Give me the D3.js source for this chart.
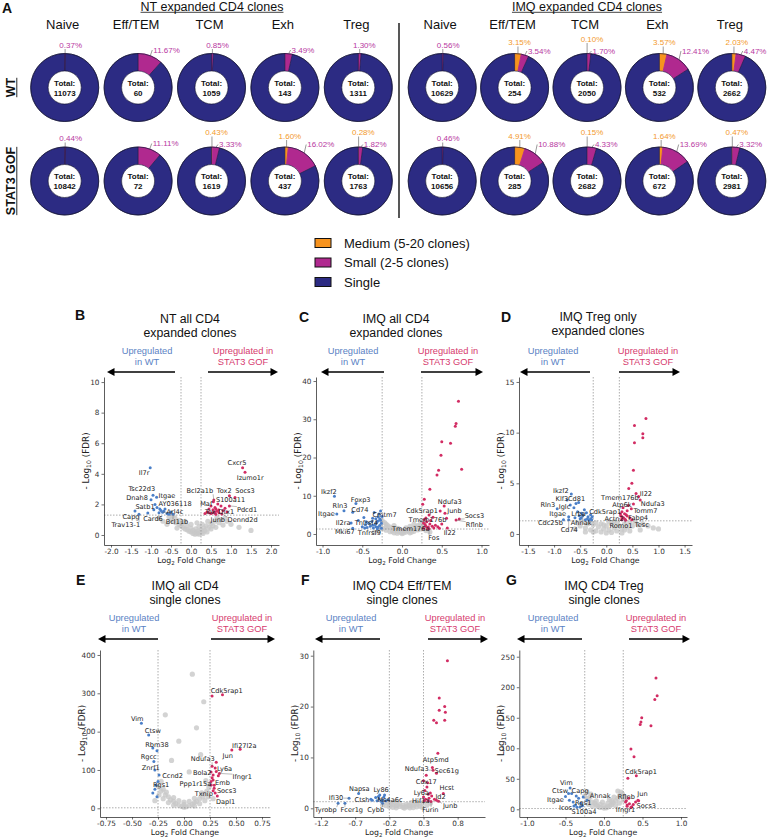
<!DOCTYPE html>
<html><head><meta charset="utf-8">
<script src="https://cdn.jsdelivr.net/npm/d3@7"></script>
<style>body{margin:0;background:#fff}svg{display:block}</style>
</head><body>
<svg id="fig" width="768" height="838"></svg>
<script>
// ================= DATA =================
const cellTypes = ["Naive","Eff/TEM","TCM","Exh","Treg"];
const groupTitles = ["NT expanded CD4 clones","IMQ expanded CD4 clones"];
const genotypes = ["WT","STAT3 GOF"];
const legendLabels = ["Medium (5-20 clones)","Small (2-5 clones)","Single"];

const ntWtTotal   = [11073, 60, 1059, 143, 1311];
const ntWtMedium  = [0, 0, 0, 0, 0];
const ntWtSmall   = [0.37, 11.67, 0.85, 3.49, 1.30];
const ntGofTotal  = [10842, 72, 1619, 437, 1763];
const ntGofMedium = [0, 0, 0.43, 1.60, 0.28];
const ntGofSmall  = [0.44, 11.11, 3.33, 16.02, 1.82];
const imqWtTotal   = [10629, 254, 2050, 532, 2662];
const imqWtMedium  = [0, 3.15, 0.10, 3.57, 2.03];
const imqWtSmall   = [0.56, 3.54, 1.70, 12.41, 4.47];
const imqGofTotal  = [10656, 285, 2682, 672, 2981];
const imqGofMedium = [0, 4.91, 0.15, 1.64, 0.47];
const imqGofSmall  = [0.46, 10.88, 4.33, 13.69, 3.32];

// Volcano data: genes [name, log2FC, -log10FDR, labelX, labelY] ; points [log2FC, -log10FDR]
const bGray = [[-0.55,1.2],[-0.5,1.0],[-0.45,0.9],[-0.4,1.1],[-0.38,0.8],[-0.3,0.7],[-0.3,0.95],[-0.25,0.6],[-0.2,0.5],[-0.2,0.8],[-0.15,0.4],[-0.1,0.35],[-0.1,0.6],[-0.05,0.25],[0,0.2],[0,0.45],[0.05,0.1],[0.05,0.3],[0.1,0.05],[0.1,0.2],[0.12,0.4],[0.15,0.1],[0.18,0.25],[0.2,0.05],[0.22,0.15],[0.25,0.35],[0.28,0.2],[0.3,0.1],[0.32,0.45],[0.35,0.3],[0.38,0.6],[0.4,0.2],[0.45,0.5],[0.5,0.4],[0.5,0.75],[0.55,0.6],[0.6,0.9],[0.62,0.5],[0.7,0.8],[0.75,1.0],[0.8,0.65],[0.85,1.1],[0.9,0.9],[1.0,0.7],[1.2,0.5],[1.5,0.3],[-0.7,0.9],[-0.8,1.1],[0.2,0.55],[-0.35,0.45],[0.65,1.15],[-0.45,1.25],[-0.6,0.7],[0.28,0.7],[0.0,0.7],[-0.15,0.9],[0.42,0.9],[0.15,0.8]];
const bWTGenes = [["Il7r",-1.02,4.4,-1.17,4.1],["Tsc22d3",-0.95,2.6,-1.23,3.0],["Itgae",-0.86,2.46,-0.6,2.55],["Dnah8",-1.0,2.3,-1.35,2.42],["Satb1",-0.93,1.65,-1.15,1.83],["AY036118",-0.78,1.7,-0.4,2.03],["Arl4c",-0.71,1.48,-0.4,1.5],["Capg",-1.4,1.57,-1.5,1.18],["Card6",-1.08,1.44,-0.95,1.05],["Bcl11b",-0.45,1.35,-0.35,0.85],["Trav13-1",-1.3,1.35,-1.63,0.65]];
const bWTPts = [[-0.6,1.4],[-0.75,1.6],[-0.8,1.45],[-0.65,1.7],[-0.55,1.35],[-0.5,1.5],[-0.85,1.8],[-0.68,1.55],[-0.9,2.0]];
const bGOFGenes = [["Cxcr5",1.29,4.4,1.15,4.7],["Izumo1r",1.35,4.1,1.48,3.75],["Tox2",0.96,2.57,0.83,2.88],["Socs3",1.1,2.45,1.35,2.88],["Bcl2a1b",0.57,2.29,0.22,2.88],["Maf",0.56,2.18,0.38,2.03],["S100a11",0.67,2.03,0.99,2.29],["Pdcd1",0.96,1.9,1.4,1.68],["Tox",0.6,1.5,0.48,1.52],["Dtx1",0.69,1.63,0.88,1.52],["Junb",0.62,1.35,0.67,0.98],["Dennd2d",0.77,1.38,1.29,0.98]];
const bGOFPts = [[0.4,1.5],[0.45,1.7],[0.5,1.4],[0.55,1.65],[0.5,1.9],[0.7,1.45],[0.8,1.6],[0.85,1.75],[0.6,1.8],[0.45,1.45],[0.65,1.55],[0.75,1.9],[0.9,1.5],[0.35,1.4],[0.55,1.45],[0.62,1.7]];

const cGray = [[-0.25,3.5],[-0.22,3.0],[-0.2,2.6],[-0.18,2.2],[-0.15,1.8],[-0.12,1.5],[-0.1,1.2],[-0.07,0.9],[-0.04,0.6],[-0.01,0.4],[0.02,0.3],[0.05,0.5],[0.08,0.8],[0.11,1.1],[0.14,1.4],[0.17,1.8],[0.2,2.2],[0.23,2.6],[0.26,3.0],[0.29,3.4],[-0.2,1.0],[-0.15,0.6],[-0.1,0.3],[0,0.1],[0.1,0.3],[0.15,0.7],[0.2,1.1],[-0.05,1.5],[0.05,1.6],[0.1,2.0],[-0.1,2.2],[0.15,2.6],[-0.2,1.8],[0.25,1.6],[-0.3,0.8],[0.3,0.9],[-0.35,0.4],[0.35,0.5],[-0.27,2.0],[0.28,2.0],[0,0.9],[-0.12,0.8],[0.12,0.5],[-0.24,1.4],[0.22,1.3],[-0.06,0.2],[0.06,1.0]];
const cWTGenes = [["Ikzf2",-0.85,9.9,-0.92,11.0],["Foxp3",-0.58,8.0,-0.52,8.9],["Rln3",-0.73,6.1,-0.78,7.4],["Cd74",-0.62,5.7,-0.53,6.3],["Itgae",-0.82,5.2,-0.95,5.2],["Cmtm7",-0.37,4.1,-0.22,5.0],["Il2ra",-0.64,2.9,-0.74,3.0],["Tnfrsf4",-0.45,3.2,-0.45,3.0],["Mki67",-0.62,1.5,-0.72,0.6],["Tnfrsf9",-0.47,1.6,-0.41,0.35]];
const cWTPts = [[-0.26,1.5],[-0.28,2.2],[-0.3,1.8],[-0.32,3.0],[-0.27,3.6],[-0.3,4.5],[-0.34,2.5],[-0.36,1.6],[-0.38,3.3],[-0.29,5.2],[-0.33,4.0],[-0.4,2.0],[-0.42,2.8],[-0.35,5.6],[-0.26,2.8],[-0.31,1.4],[-0.44,1.7],[-0.28,4.0],[-0.37,2.3],[-0.3,3.4],[-0.46,2.4],[-0.5,1.9],[-0.25,4.6],[-0.33,1.9],[-0.27,6.0],[-0.55,3.5],[-0.48,4.3]];
const cGOFGenes = [["Ndufa3",0.53,7.3,0.6,8.4],["Cdk5rap1",0.48,6.0,0.25,6.0],["Junb",0.54,5.4,0.66,6.0],["Tmem176b",0.56,4.1,0.32,3.8],["Socs3",0.72,3.9,0.91,4.8],["Rflnb",0.68,3.65,0.91,2.5],["Il22",0.57,1.6,0.6,0.35],["Tmem176a",0.3,2.0,0.11,1.5],["Fos",0.34,1.4,0.4,-0.9]];
const cGOFPts = [[0.71,34.7],[0.68,28.9],[0.67,28.2],[0.5,24.1],[0.61,23.7],[0.49,20.6],[0.46,16.7],[0.44,15.4],[0.75,16.9],[0.35,11.7],[0.28,9.1],[0.26,7.8],[0.27,1.5],[0.29,2.5],[0.31,3.2],[0.33,1.8],[0.35,2.6],[0.3,4.2],[0.38,2.0],[0.36,3.5],[0.4,1.6],[0.42,2.3],[0.28,3.8],[0.32,1.4],[0.45,1.9],[0.39,4.4],[0.34,5.0],[0.27,2.9],[0.5,2.6],[0.47,1.5]];

const dGray = [[-0.5,0.8],[-0.45,1.2],[-0.4,0.6],[-0.35,1.0],[-0.3,0.4],[-0.25,0.9],[-0.2,0.3],[-0.15,0.7],[-0.1,0.2],[-0.05,0.5],[0,0.1],[0.05,0.4],[0.1,0.15],[0.15,0.6],[0.2,0.3],[0.25,0.8],[0.3,0.5],[0.35,1.0],[0.4,0.7],[0.45,1.1],[0.5,0.8],[0.55,1.2],[0.6,0.9],[0.7,1.0],[0.8,0.8],[0.9,0.6],[1.0,0.5],[-0.6,0.5],[-0.2,1.1],[0,0.8],[0.1,1.0],[0.2,1.1],[-0.1,1.0],[-0.3,1.2],[0.05,1.2],[-0.4,0.2],[0.3,0.1],[0.65,0.4],[-0.55,1.1],[0.15,1.25],[-0.25,0.2],[0.45,0.3],[-0.05,0.9],[0.35,0.4]];
const dWTGenes = [["Ikzf2",-0.67,3.95,-0.87,4.3],["Klf3",-0.75,3.35,-0.85,3.5],["Cd81",-0.53,3.1,-0.57,3.5],["Rln3",-0.94,2.5,-1.12,2.86],["Iglc",-0.69,2.86,-0.8,2.7],["Itgae",-0.72,1.7,-0.93,2.0],["Lrba",-0.47,2.04,-0.53,2.0],["Cdc25b",-0.82,1.4,-1.07,1.12],["Ahnak",-0.45,1.8,-0.48,1.12],["Cd74",-0.72,1.4,-0.71,0.4]];
const dWTPts = [[-0.5,1.5],[-0.45,1.9],[-0.4,1.4],[-0.35,1.7],[-0.3,1.5],[-0.38,2.1],[-0.55,2.2],[-0.6,1.6],[-0.3,1.9],[-0.42,2.4],[-0.33,1.35],[-0.48,1.6],[-0.28,1.4],[-0.36,1.5],[-0.27,1.7],[-0.52,1.8],[-0.62,2.6],[-0.58,3.0]];
const dGOFGenes = [["Il22",0.62,3.7,0.76,3.95],["Tmem176b",0.57,4.0,0.26,3.6],["Ndufa3",0.65,3.35,0.89,3.0],["Atp6k",0.52,2.96,0.3,2.9],["Tomm7",0.48,2.5,0.75,2.3],["Cdk5rap1",0.3,2.2,-0.02,2.2],["Fabp4",0.4,1.78,0.61,1.6],["Actn2",0.3,1.7,0.15,1.55],["Romo1",0.36,1.45,0.28,0.8],["Tesc",0.49,1.4,0.68,0.9]];
const dGOFPts = [[0.76,11.4],[0.54,10.7],[0.70,9.9],[0.70,9.5],[0.54,9.0],[0.52,6.3],[0.49,5.0],[0.43,4.5],[0.3,1.5],[0.35,2.0],[0.28,1.8],[0.4,2.3],[0.45,1.6],[0.32,2.6],[0.38,1.9],[0.3,1.4],[0.42,2.8],[0.27,2.0],[0.33,1.6],[0.37,1.35]];

const eGray = [[-0.25,58],[-0.22,45],[-0.2,50],[-0.18,35],[-0.15,30],[-0.13,22],[-0.1,18],[-0.08,12],[-0.05,8],[-0.02,5],[0,3],[0.02,4],[0.05,7],[0.08,10],[0.1,15],[0.12,18],[0.15,25],[0.18,30],[0.2,38],[0.22,45],[0.24,55],[0.25,62],[-0.15,15],[-0.1,8],[0,10],[0.1,6],[0.15,12],[-0.2,25],[0.2,20],[-0.05,20],[0.05,18],[-0.24,35],[0.23,30],[-0.18,244],[0.19,278],[0.08,350],[-0.05,175],[0.12,210],[-0.12,125],[0.16,140],[0.05,95],[-0.22,70],[0.21,72],[-0.28,20],[0.28,25],[-0.17,42],[0.17,40],[-0.1,28],[0.1,26],[0,16]];
const eWTGenes = [["Vim",-0.41,222,-0.45,233],["Ctsw",-0.34,191,-0.3,203],["Rbm38",-0.3,157,-0.26,167],["Rgcc",-0.29,122,-0.34,135],["Znrf1",-0.28,100,-0.32,107],["Ccnd2",-0.24,87,-0.11,84],["Rgs1",-0.28,50,-0.22,61]];
const eWTPts = [[-0.26,150],[-0.27,60],[-0.3,40],[-0.26,30],[-0.25,70]];
const eGOFGenes = [["Cdk5rap1",0.27,293,0.41,306],["Ifi27l2a",0.54,154,0.58,163],["Jun",0.46,152,0.42,137],["Ndufa3",0.27,110,0.18,129],["Ly6a",0.31,96,0.39,104],["Bola2",0.28,87,0.175,94],["Ifngr1",0.34,91,0.56,82],["Emb",0.28,74,0.37,68],["Ppp1r15a",0.26,61,0.11,63],["Socs3",0.29,52,0.41,45],["Txnip",0.28,46,0.19,39],["Dapl1",0.32,32,0.40,17]];
const eGOFPts = [[0.37,296],[0.27,80],[0.3,105],[0.26,70],[0.29,60],[0.33,85],[0.3,40],[0.26,95],[0.31,120]];

const fGray = [[-0.25,1.2],[-0.2,0.9],[-0.15,0.7],[-0.1,0.5],[-0.05,0.35],[0,0.2],[0.05,0.3],[0.1,0.45],[0.15,0.6],[0.2,0.8],[0.25,1.0],[0.3,1.2],[-0.2,0.3],[-0.1,0.1],[0,0.6],[0.1,0.1],[0.2,0.3],[-0.15,0.2],[0.15,0.15],[0.05,0.8],[-0.05,0.9],[0.25,0.4],[-0.25,0.5],[0.35,0.6],[-0.3,0.7],[0.4,1.0],[0.12,1.1],[-0.12,1.2],[0.02,0.05],[0.28,0.2],[-0.08,0.7],[0.08,0.6],[0.18,1.1],[-0.18,1.0]];
const fWTGenes = [["Napsa",-0.65,2.9,-0.64,3.9],["Ly86",-0.34,2.6,-0.32,3.6],["Ifi30",-0.79,2.0,-0.98,2.0],["Ctsh",-0.47,1.77,-0.6,1.77],["Ms4a6c",-0.36,2.3,-0.19,1.63],["Tyrobp",-0.95,1.0,-1.13,-0.3],["Fcer1g",-0.85,1.0,-0.75,-0.3],["Cybb",-0.3,1.0,-0.4,-0.3]];
const fWTPts = [[-0.3,1.6],[-0.35,1.9],[-0.25,1.5],[-0.4,2.1],[-0.28,2.2],[-0.32,1.4],[-0.45,1.6],[-0.22,1.7],[-0.27,2.6],[-0.38,1.5]];
const fGOFGenes = [["Atp5md",0.51,10.8,0.48,9.6],["Ndufa3",0.44,7.5,0.2,7.7],["Sec61g",0.49,6.9,0.64,7.4],["Cox17",0.3,5.4,0.34,5.2],["Hcst",0.59,2.9,0.64,4.1],["Ly6a",0.37,2.75,0.27,3.1],["Id2",0.49,1.6,0.55,2.3],["Hif1a",0.37,1.5,0.26,1.4],["Junb",0.52,1.4,0.69,0.45],["Furin",0.41,1.35,0.4,-0.3]];
const fGOFPts = [[0.65,29.0],[0.53,21.7],[0.61,20.0],[0.53,19.3],[0.62,18.9],[0.45,17.3],[0.49,16.8],[0.61,17.3],[0.32,3.5],[0.35,4.2],[0.3,2.2],[0.33,1.8],[0.38,2.0],[0.4,3.0],[0.31,1.5],[0.36,5.0],[0.42,2.4],[0.34,6.5],[0.43,8.0],[0.46,1.8]];

const gGray = [[-0.25,22],[-0.22,18],[-0.2,15],[-0.18,20],[-0.15,12],[-0.12,10],[-0.1,7],[-0.08,5],[-0.05,3],[0,2],[0.03,2.5],[0.05,4],[0.08,6],[0.1,8],[0.12,11],[0.15,14],[0.18,18],[0.2,22],[0.22,28],[0.24,25],[-0.15,5],[-0.05,8],[0.05,10],[0.15,6],[-0.2,8],[0.2,10],[0,6],[0.1,14],[-0.1,14],[0.18,30],[-0.22,28],[0.25,15],[0.27,20],[-0.17,25],[0.13,20],[-0.02,12],[0.07,16]];
const gWTGenes = [["Vim",-0.44,35,-0.49,44],["Ctsw",-0.46,26,-0.57,30],["Capg",-0.42,26,-0.31,30],["Itgae",-0.5,21,-0.63,16],["Ahnak",-0.22,15,-0.05,23],["Rgs1",-0.37,7,-0.27,11],["Icos",-0.39,5.4,-0.5,2],["S100a4",-0.35,3.3,-0.26,-4]];
const gWTPts = [[-0.3,10],[-0.33,18],[-0.28,6],[-0.4,12],[-0.27,20],[-0.36,22],[-0.31,4],[-0.45,15]];
const gGOFGenes = [["Cdk5rap1",0.42,55,0.48,61],["Jun",0.44,15,0.5,25],["Rflnb",0.28,12,0.29,21],["Socs3",0.45,14,0.55,6],["Ifngr1",0.3,7,0.28,0]];
const gGOFPts = [[0.675,215],[0.69,186],[0.66,180],[0.49,150],[0.48,143],[0.47,139],[0.61,137],[0.35,99],[0.39,86],[0.31,51],[0.3,5],[0.33,9],[0.36,4],[0.29,14],[0.32,18],[0.38,8],[0.41,12],[0.35,3]];

const bXTicks = [-2,-1.5,-1,-0.5,0,0.5,1,1.5,2], bYTicks = [0,2,4,6,8,10];
const cXTicks = [-1,-0.5,0,0.5,1], cYTicks = [0,10,20,30,40];
const dXTicks = [-1.5,-1,-0.5,0,0.5,1,1.5], dYTicks = [0,5,10,15];
const eXTicks = [-0.75,-0.5,-0.25,0,0.25,0.5,0.75], eYTicks = [0,100,200,300,400];
const fXTicks = [-1.2,-0.7,-0.2,0.3,0.8], fYTicks = [0,10,20,30];
const gXTicks = [-1,-0.5,0,0.5,1], gYTicks = [0,50,100,150,200,250];
const bThr = [-0.25,0.25], cThr = [-0.25,0.25], dThr = [-0.25,0.25], eThr = [-0.25,0.25], fThr = [-0.2,0.3], gThr = [-0.25,0.25];
const fdrLine = 1.3;

// ================= DRAW =================
const svg = d3.select("#fig");
const SANS = "'Liberation Sans', Arial, sans-serif";
const DV = "'DejaVu Sans', sans-serif";
const NAVY = "#2c2b83", MAG = "#b0298f", ORG = "#f7931e";
const MAGTXT = "#b8389f", ORGTXT = "#f39a2c";
const BLUE = "#4a7fc8", RED = "#d22c63", BLUETXT = "#5a82c4", REDTXT = "#d63a6e";
const pct = d3.format(".2f");

function txt(g, x, y, s, size, opts = {}) {
  const t = g.append("text").attr("x", x).attr("y", y).text(s)
    .attr("font-family", opts.family || SANS).attr("font-size", size)
    .attr("fill", opts.fill || "#111").attr("text-anchor", opts.anchor || "start");
  if (opts.bold) t.attr("font-weight", "bold");
  return t;
}

// ---- Panel A ----
const A = svg.append("g");
txt(A, 2, 12.5, "A", 14, {bold: true});
const groupRanges = [[28, 395], [406, 768]];
const rowScale = d3.scaleBand().domain(genotypes).range([40.75, 227.75]);
const R = 34, RI = 16.5;
const arc = d3.arc().innerRadius(RI).outerRadius(R);
const pie = d3.pie().sort(null).value(d => d.v);
const sets = [
  [[ntWtTotal, ntWtMedium, ntWtSmall], [ntGofTotal, ntGofMedium, ntGofSmall]],
  [[imqWtTotal, imqWtMedium, imqWtSmall], [imqGofTotal, imqGofMedium, imqGofSmall]]
];

function donutLabels(g, cx, cy, med, small) {
  const tau = 2 * Math.PI;
  const lead = (x1, y1, x2, y2) => g.append("line").attr("x1", x1).attr("y1", y1).attr("x2", x2).attr("y2", y2)
    .attr("stroke", "#555").attr("stroke-width", 0.6);
  if (med > 0) {
    const a = med / 100 * tau / 2;
    const x0 = cx + R * Math.sin(a), y0 = cy - R * Math.cos(a);
    const ty = cy - R - (med < 1 ? 12 : 8.5);
    lead(x0, y0, x0, ty + 1.5);
    txt(g, cx + 5, ty, pct(med) + "%", 8, {fill: ORGTXT, anchor: "middle"});
  }
  if (small > 0) {
    const a = (med + small / 2) / 100 * tau;
    const x0 = cx + R * Math.sin(a), y0 = cy - R * Math.cos(a);
    if (med === 0 && small < 2) {
      const ty = cy - R - 6;
      lead(x0, y0, x0, ty + 1.5);
      txt(g, cx + 6, ty, pct(small) + "%", 8, {fill: MAGTXT, anchor: "middle"});
    } else {
      const tx = Math.max(cx + 5.5, x0 + 3);
      const ty = med > 0 ? cy - R : cy - R - 1;
      lead(x0, y0, tx - 1, ty - 2.5);
      txt(g, tx, ty, pct(small) + "%", 8, {fill: MAGTXT});
    }
  }
}

groupTitles.forEach((gt, gi) => {
  const colScale = d3.scaleBand().domain(cellTypes).range(groupRanges[gi]);
  const cxT = gi === 0 ? 212 : 587;
  const t = txt(A, cxT, 10.5, gt, 12.5, {anchor: "middle"});
  const w = t.node().getComputedTextLength();
  A.append("line").attr("x1", cxT - w / 2).attr("x2", cxT + w / 2).attr("y1", 12.3).attr("y2", 12.3)
    .attr("stroke", "#111").attr("stroke-width", 0.8);
  cellTypes.forEach(ct => {
    const cx = colScale(ct) + colScale.bandwidth() / 2;
    txt(A, cx - 2, 28.5, ct, 13, {anchor: "middle"});
  });
  genotypes.forEach((gn, ri) => {
    const [tot, med, sm] = sets[gi][ri];
    const cy = rowScale(gn) + rowScale.bandwidth() / 2;
    cellTypes.forEach((ct, ci) => {
      const cx = colScale(ct) + colScale.bandwidth() / 2;
      const g = A.append("g");
      const slices = pie([{k: "m", v: med[ci]}, {k: "s", v: sm[ci]}, {k: "n", v: 100 - med[ci] - sm[ci]}]);
      const fills = {m: ORG, s: MAG, n: NAVY};
      g.selectAll("path").data(slices).join("path")
        .attr("transform", `translate(${cx},${cy})`)
        .attr("d", arc)
        .attr("fill", d => fills[d.data.k])
        .attr("stroke", d => d.data.k === "n" ? "#1a1a40" : fills[d.data.k])
        .attr("stroke-width", d => d.data.k === "n" ? 0.6 : 0.9);
      g.append("circle").attr("cx", cx).attr("cy", cy).attr("r", R).attr("fill", "none").attr("stroke", "#15153a").attr("stroke-width", 0.7);
      g.append("circle").attr("cx", cx).attr("cy", cy).attr("r", RI).attr("fill", "#fff").attr("stroke", "#15153a").attr("stroke-width", 0.6);
      txt(g, cx, cy - 2, "Total:", 8, {bold: true, anchor: "middle"});
      txt(g, cx, cy + 8, String(tot[ci]), 8, {bold: true, anchor: "middle"});
      donutLabels(g, cx, cy, med[ci], sm[ci]);
    });
  });
});
// row labels
genotypes.forEach(gn => {
  const cy = rowScale(gn) + rowScale.bandwidth() / 2;
  const t = A.append("text").attr("transform", `translate(15,${cy}) rotate(-90)`).attr("text-anchor", "middle")
    .attr("font-family", SANS).attr("font-weight", "bold").attr("font-size", 12.5).attr("fill", "#111").text(gn);
  const w = t.node().getComputedTextLength();
  A.append("line").attr("x1", 16.8).attr("x2", 16.8).attr("y1", cy - w / 2).attr("y2", cy + w / 2).attr("stroke", "#111").attr("stroke-width", 0.9);
});
A.append("line").attr("x1", 399).attr("x2", 399).attr("y1", 23).attr("y2", 218).attr("stroke", "#111").attr("stroke-width", 1.4);
// legend
const legFills = [ORG, MAG, NAVY];
legendLabels.forEach((l, i) => {
  const y = 243 + i * 19.5;
  A.append("rect").attr("x", 315).attr("y", y - 4.5).attr("width", 16).attr("height", 9).attr("fill", legFills[i]).attr("stroke", "#111").attr("stroke-width", 1);
  txt(A, 344, y + 4.5, l, 13);
});

// ---- Volcano panels ----
function volcano(p) {
  const x = d3.scaleLinear().domain(p.xDom).range([p.left, p.right]);
  const y = d3.scaleLinear().domain(p.yDom).range([p.bottom, p.top]);
  const g = svg.append("g");
  txt(g, p.letter[0], p.letter[1], p.id, 14, {bold: true});
  p.title.forEach((t, i) => txt(g, p.tx, p.ty + i * 14, t, 12.3, {anchor: "middle"}));
  ["Upregulated", "in WT"].forEach((t, i) => txt(g, p.blueX, p.upY + i * 11, t, 9.3, {anchor: "middle", fill: BLUETXT}));
  ["Upregulated in", "STAT3 GOF"].forEach((t, i) => txt(g, p.redX, p.upY + i * 11, t, 9.3, {anchor: "middle", fill: REDTXT}));
  // arrows
  const arrowY = p.upY + 18.5;
  const drawArrow = (head, tail) => {
    const dir = head < tail ? 1 : -1;
    g.append("line").attr("x1", tail).attr("x2", head + dir * 5).attr("y1", arrowY).attr("y2", arrowY).attr("stroke", "#000").attr("stroke-width", 1.6);
    g.append("path").attr("d", `M${head},${arrowY}L${head + dir * 7.5},${arrowY - 4}L${head + dir * 7.5},${arrowY + 4}Z`).attr("fill", "#000");
  };
  drawArrow(p.arrowL[0], p.arrowL[1]);
  drawArrow(p.arrowR[1], p.arrowR[0]);
  // gray cloud
  g.append("g").selectAll("circle").data(p.gray).join("circle")
    .attr("cx", d => x(d[0])).attr("cy", d => y(d[1])).attr("r", 2.6)
    .attr("fill", "#c8c8c8").attr("fill-opacity", 0.8);
  // threshold lines
  p.thr.forEach(t => g.append("line").attr("x1", x(t)).attr("x2", x(t)).attr("y1", p.top).attr("y2", p.bottom)
    .attr("stroke", "#8a8a8a").attr("stroke-width", 0.7).attr("stroke-dasharray", "1.5,1.5"));
  g.append("line").attr("x1", p.left).attr("x2", p.right).attr("y1", y(fdrLine)).attr("y2", y(fdrLine))
    .attr("stroke", "#8a8a8a").attr("stroke-width", 0.7).attr("stroke-dasharray", "1.5,1.5");
  // axes
  const fx = v => d3.format(p.xFmt)(v).replace("\u2212", "-");
  const xa = g.append("g").attr("transform", `translate(0,${p.bottom})`)
    .call(d3.axisBottom(x).tickValues(p.xTicks).tickFormat(fx).tickSize(2.5).tickSizeOuter(0).tickPadding(1.8));
  const ya = g.append("g").attr("transform", `translate(${p.left},0)`)
    .call(d3.axisLeft(y).tickValues(p.yTicks).tickFormat(d3.format("d")).tickSize(2.5).tickSizeOuter(0).tickPadding(2));
  [xa, ya].forEach(a => {
    a.select(".domain").attr("stroke", "#333").attr("stroke-width", 0.8);
    a.selectAll(".tick line").attr("stroke", "#333").attr("stroke-width", 0.7);
    a.selectAll(".tick text").attr("font-family", DV).attr("font-size", 7.3).attr("fill", "#333");
  });
  // axis titles
  const xt = g.append("text").attr("x", (p.left + p.right) / 2).attr("y", p.bottom + 18).attr("text-anchor", "middle")
    .attr("font-family", DV).attr("font-size", 7.8).attr("fill", "#222");
  xt.append("tspan").text("Log");
  xt.append("tspan").text("2").attr("font-size", 5.5).attr("dy", 2);
  xt.append("tspan").text(" Fold Change").attr("dy", -2);
  const yt = g.append("text").attr("transform", `translate(${p.left - 15},${(p.top + p.bottom) / 2}) rotate(-90)`)
    .attr("text-anchor", "middle").attr("font-family", DV).attr("font-size", 8.8).attr("fill", "#222");
  yt.append("tspan").text("- Log");
  yt.append("tspan").text("10").attr("font-size", 6.2).attr("dy", 2);
  yt.append("tspan").text(" (FDR)").attr("dy", -2);
  // colored points
  const pts = [[p.wtPts, BLUE], [p.wtGenes, BLUE], [p.gofPts, RED], [p.gofGenes, RED]];
  pts.forEach(([arr, col]) => {
    g.append("g").selectAll("circle").data(arr).join("circle")
      .attr("cx", d => x(d.length > 2 ? d[1] : d[0])).attr("cy", d => y(d.length > 2 ? d[2] : d[1]))
      .attr("r", 1.5).attr("fill", col);
  });
  // gene labels with leaders
  const lg = g.append("g");
  p.wtGenes.concat(p.gofGenes).forEach(d => {
    const px = x(d[1]), py = y(d[2]);
    const t = lg.append("text").attr("x", x(d[3])).attr("y", y(d[4])).attr("dy", "0.35em").attr("text-anchor", "middle")
      .attr("font-family", DV).attr("font-size", 6.6).attr("fill", "#222").text(d[0]);
    const bb = t.node().getBBox();
    const qx = Math.max(bb.x, Math.min(px, bb.x + bb.width));
    const qy = Math.max(bb.y + 1, Math.min(py, bb.y + bb.height - 1));
    const dist = Math.hypot(qx - px, qy - py);
    if (dist > 3.5) {
      lg.append("line").attr("x1", px).attr("y1", py).attr("x2", qx).attr("y2", qy)
        .attr("stroke", "#666").attr("stroke-width", 0.45);
    }
  });
}

const panels = [
  {id: "B", letter: [75, 320], title: ["NT all CD4", "expanded clones"], tx: 190, ty: 322.5, blueX: 147, redX: 243, upY: 353.5,
   arrowL: [107, 175], arrowR: [208, 278], left: 104, right: 279, top: 377, bottom: 545,
   xDom: [-2.175, 2.2], yDom: [-0.654, 10.33], xTicks: bXTicks, yTicks: bYTicks, xFmt: ".1f", thr: bThr,
   gray: bGray, wtGenes: bWTGenes, wtPts: bWTPts, gofGenes: bGOFGenes, gofPts: bGOFPts},
  {id: "C", letter: [299, 321.5], title: ["IMQ all CD4", "expanded clones"], tx: 396, ty: 322.5, blueX: 353, redX: 448, upY: 353.5,
   arrowL: [321, 384], arrowR: [421, 483], left: 316, right: 489, top: 377, bottom: 545,
   xDom: [-1.082, 1.094], yDom: [-2.876, 41.05], xTicks: cXTicks, yTicks: cYTicks, xFmt: ".1f", thr: cThr,
   gray: cGray, wtGenes: cWTGenes, wtPts: cWTPts, gofGenes: cGOFGenes, gofPts: cGOFPts},
  {id: "D", letter: [501, 321.5], title: ["IMQ Treg only", "expanded clones"], tx: 598, ty: 320.5, blueX: 553, redX: 648, upY: 353.5,
   arrowL: [520, 590], arrowR: [619, 680], left: 519, right: 692, top: 377, bottom: 545,
   xDom: [-1.672, 1.642], yDom: [-1.086, 15.49], xTicks: dXTicks, yTicks: dYTicks, xFmt: ".1f", thr: dThr,
   gray: dGray, wtGenes: dWTGenes, wtPts: dWTPts, gofGenes: dGOFGenes, gofPts: dGOFPts},
  {id: "E", letter: [76, 585], title: ["IMQ all CD4", "single clones"], tx: 185, ty: 589.5, blueX: 134, redX: 242, upY: 620.5,
   arrowL: [98, 158], arrowR: [211, 275], left: 100, right: 270, top: 650, bottom: 817,
   xDom: [-0.808, 0.827], yDom: [-22.7, 413], xTicks: eXTicks, yTicks: eYTicks, xFmt: ".2f", thr: eThr,
   gray: eGray, wtGenes: eWTGenes, wtPts: eWTPts, gofGenes: eGOFGenes, gofPts: eGOFPts},
  {id: "F", letter: [301, 585], title: ["IMQ CD4 Eff/TEM", "single clones"], tx: 402, ty: 589.5, blueX: 351, redX: 455, upY: 620.5,
   arrowL: [315, 380], arrowR: [428, 488], left: 313.3, right: 485, top: 650, bottom: 817,
   xDom: [-1.313, 1.2], yDom: [-1.71, 31.12], xTicks: fXTicks, yTicks: fYTicks, xFmt: ".1f", thr: fThr,
   gray: fGray, wtGenes: fWTGenes, wtPts: fWTPts, gofGenes: fGOFGenes, gofPts: fGOFPts},
  {id: "G", letter: [506, 585], title: ["IMQ CD4 Treg", "single clones"], tx: 604, ty: 589.5, blueX: 553, redX: 656, upY: 620.5,
   arrowL: [517, 582], arrowR: [629, 690], left: 519.3, right: 687, top: 650, bottom: 817,
   xDom: [-1.1, 1.078], yDom: [-12.6, 261], xTicks: gXTicks, yTicks: gYTicks, xFmt: ".1f", thr: gThr,
   gray: gGray, wtGenes: gWTGenes, wtPts: gWTPts, gofGenes: gGOFGenes, gofPts: gGOFPts}
];
panels.forEach(volcano);
</script>
</body></html>
